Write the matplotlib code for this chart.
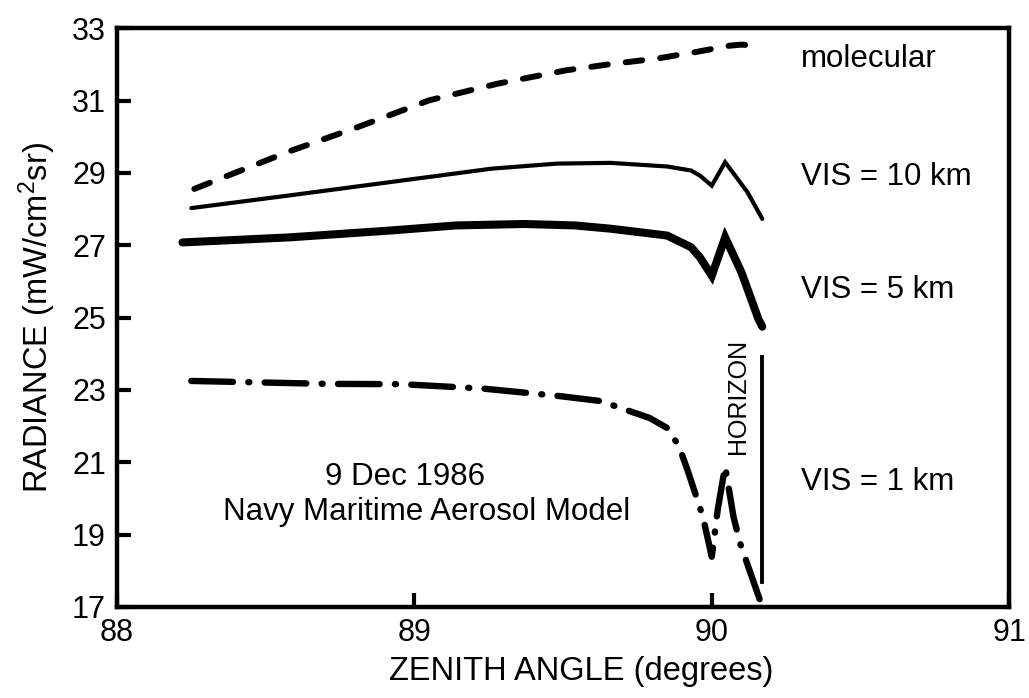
import matplotlib
matplotlib.use("Agg")
import matplotlib.pyplot as plt

plt.rcParams["font.family"] = ["Liberation Sans", "DejaVu Sans"]
plt.rcParams["mathtext.default"] = "regular"
plt.rcParams["lines.scale_dashes"] = False

# zenith angle (degrees) and radiance (mW/cm^2 sr)
molecular_x = [88.26, 88.58, 88.81, 89.05, 89.28, 89.51, 89.66, 89.82, 89.95, 90.06, 90.10, 90.17]
molecular_y = [28.56, 29.60, 30.27, 31.01, 31.47, 31.84, 32.01, 32.17, 32.35, 32.52, 32.55, 32.50]

vis10_x = [88.25, 88.58, 88.92, 89.26, 89.48, 89.66, 89.85, 89.93, 89.96, 90.00, 90.045, 90.12, 90.17]
vis10_y = [28.03, 28.38, 28.75, 29.12, 29.26, 29.28, 29.18, 29.07, 28.93, 28.65, 29.30, 28.47, 27.73]

vis5_x = [88.22, 88.58, 88.92, 89.14, 89.37, 89.54, 89.66, 89.85, 89.93, 89.96, 90.00, 90.045, 90.10, 90.157, 90.17]
vis5_y = [27.08, 27.22, 27.41, 27.55, 27.59, 27.55, 27.46, 27.27, 26.95, 26.67, 26.16, 27.22, 26.25, 24.96, 24.75]

vis1_x = [88.25, 88.70, 88.96, 89.23, 89.49, 89.63, 89.69, 89.79, 89.85, 89.89, 89.92, 89.97, 90.00,
          90.02, 90.045, 90.073, 90.095, 90.17]
vis1_y = [23.25, 23.17, 23.16, 23.04, 22.83, 22.69, 22.51, 22.23, 21.95, 21.44, 20.75, 19.50, 18.39,
          19.69, 20.89, 19.50, 18.77, 17.0]

horizon_x = [90.17, 90.17]
horizon_y = [17.7, 23.9]

series_labels = ["molecular", "VIS = 10 km", "VIS = 5 km", "VIS = 1 km"]
label_y = [31.92, 28.66, 25.54, 20.24]

xticks = [88, 89, 90, 91]
yticks = [17, 19, 21, 23, 25, 27, 29, 31, 33]

fig = plt.figure(figsize=(10.29, 6.98), dpi=100)
ax = fig.add_axes([0.1137, 0.1304, 0.867, 0.829])

# molecular, dashed
ax.plot(molecular_x, molecular_y, color="black", lw=4.3,
        dashes=(12, 13), dash_capstyle="round", solid_capstyle="round")
# VIS = 10 km, thin solid
ax.plot(vis10_x, vis10_y, color="black", lw=3.0, solid_capstyle="round", solid_joinstyle="miter")
# VIS = 5 km, thick solid
ax.plot(vis5_x, vis5_y, color="black", lw=5.8, solid_capstyle="round", solid_joinstyle="miter")
# VIS = 1 km, dash-dot
ax.plot(vis1_x, vis1_y, color="black", lw=4.6,
        dashes=(30, 11, 0.8, 11), dash_capstyle="round")
# horizon marker
ax.plot(horizon_x, horizon_y, color="black", lw=2.8)

ax.text(90.089, 22.83, "HORIZON", rotation=90, ha="center", va="center", fontsize=18)

for lab, yv in zip(series_labels, label_y):
    ax.text(90.30, yv, lab, fontsize=22.5, ha="left", va="baseline")

ax.text(88.97, 20.38, "9 Dec 1986", fontsize=22.5, ha="center", va="baseline")
ax.text(89.04, 19.41, "Navy Maritime Aerosol Model", fontsize=22.5, ha="center", va="baseline")

ax.set_xlim(88, 91)
ax.set_ylim(17, 33)
ax.set_xticks(xticks)
ax.set_yticks(yticks)
ax.tick_params(direction="in", length=10, width=3, labelsize=22, pad=8,
               top=False, right=False)

for side in ax.spines.values():
    side.set_linewidth(3.2)

ax.set_xlabel("ZENITH ANGLE (degrees)", fontsize=23.5, labelpad=8)
ax.xaxis.set_label_coords(0.52, -0.085)
ax.set_ylabel("RADIANCE (mW/cm$^2$sr)", fontsize=23.5, labelpad=10)

plt.savefig("out.png", dpi=100)
